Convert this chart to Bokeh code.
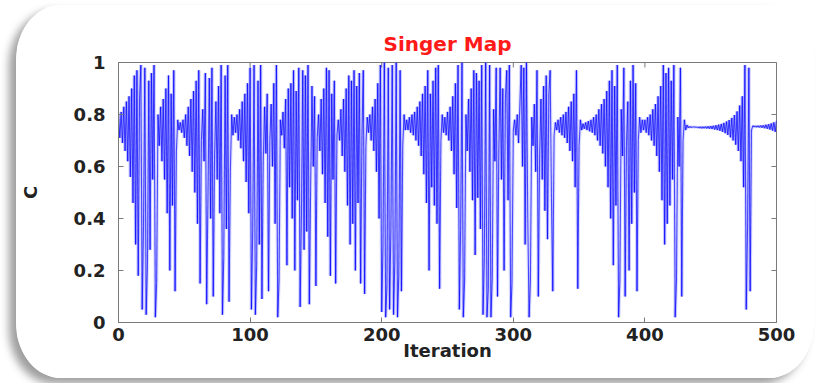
import math
from bokeh.plotting import figure
from bokeh.models import Range1d, FixedTicker, NumeralTickFormatter
from bokeh.embed import file_html
from bokeh.resources import INLINE

# ---- data (C value per iteration) ----
c_000_099 = [
    0.80, 0.71, 0.81, 0.69, 0.83, 0.66, 0.85, 0.62, 0.87, 0.56,
    0.90, 0.46, 0.95, 0.30, 0.97, 0.18, 0.86, 0.99, 0.05, 0.37,
    0.98, 0.03, 0.22, 0.93, 0.28, 0.96, 0.55, 0.99, 0.02, 0.15,
    0.80, 0.68, 0.83, 0.62, 0.86, 0.55, 0.90, 0.42, 0.95, 0.20,
    0.88, 0.45, 0.97, 0.12, 0.66, 0.78, 0.74, 0.77, 0.73, 0.78,
    0.71, 0.80, 0.68, 0.83, 0.64, 0.86, 0.58, 0.89, 0.50, 0.93,
    0.38, 0.97, 0.15, 0.70, 0.82, 0.62, 0.96, 0.07, 0.48, 0.94,
    0.40, 0.98, 0.10, 0.64, 0.85, 0.55, 0.91, 0.42, 0.99, 0.03,
    0.25, 0.95, 0.36, 0.99, 0.08, 0.58, 0.80, 0.72, 0.79, 0.73,
    0.80, 0.70, 0.82, 0.67, 0.85, 0.62, 0.88, 0.54, 0.92, 0.42,
]
c_100_199 = [
    0.98, 0.05, 0.36, 0.99, 0.03, 0.22, 0.93, 0.30, 0.99, 0.09,
    0.62, 0.83, 0.65, 0.88, 0.12, 0.70, 0.84, 0.60, 0.92, 0.38,
    0.99, 0.02, 0.16, 0.78, 0.72, 0.81, 0.67, 0.86, 0.22, 0.90,
    0.52, 0.92, 0.40, 0.97, 0.20, 0.89, 0.47, 0.98, 0.06, 0.41,
    0.97, 0.28, 0.95, 0.35, 0.99, 0.07, 0.52, 0.91, 0.60, 0.87,
    0.14, 0.71, 0.80, 0.66, 0.86, 0.57, 0.90, 0.46, 0.98, 0.33,
    0.97, 0.18, 0.88, 0.55, 0.93, 0.15, 0.72, 0.78, 0.70, 0.82,
    0.64, 0.86, 0.58, 0.90, 0.45, 0.95, 0.30, 0.93, 0.38, 0.97,
    0.20, 0.91, 0.46, 0.96, 0.15, 0.72, 0.97, 0.11, 0.68, 0.79,
    0.73, 0.80, 0.70, 0.83, 0.66, 0.86, 0.58, 0.92, 0.40, 0.99,
]
c_200_299 = [
    0.04, 0.30, 1.00, 0.02, 0.14, 0.98, 0.05, 0.36, 0.99, 0.03,
    0.24, 1.00, 0.02, 0.18, 0.97, 0.12, 0.68, 0.80, 0.74, 0.78,
    0.74, 0.79, 0.73, 0.80, 0.72, 0.81, 0.70, 0.83, 0.68, 0.85,
    0.64, 0.88, 0.57, 0.91, 0.46, 0.97, 0.20, 0.88, 0.52, 0.93,
    0.45, 0.98, 0.38, 0.99, 0.13, 0.70, 0.80, 0.73, 0.79, 0.72,
    0.81, 0.70, 0.83, 0.66, 0.87, 0.57, 0.92, 0.44, 0.99, 0.05,
    0.37, 1.00, 0.02, 0.16, 0.80, 0.66, 0.86, 0.58, 0.90, 0.47,
    0.97, 0.26, 0.96, 0.48, 0.93, 0.36, 0.99, 0.03, 0.25, 1.00,
    0.02, 0.13, 0.99, 0.02, 0.17, 0.82, 0.62, 0.98, 0.10, 0.66,
    0.98, 0.55, 0.90, 0.20, 0.86, 0.97, 0.47, 0.99, 0.02, 0.15,
]
c_300_399 = [
    0.74, 0.78, 0.72, 0.80, 0.69, 0.84, 0.99, 0.60, 0.98, 0.30,
    1.00, 0.40, 0.02, 0.16, 0.79, 0.68, 0.84, 0.58, 0.97, 0.10,
    0.64, 0.86, 0.55, 0.91, 0.43, 0.95, 0.32, 0.88, 0.97, 0.48,
    0.12, 0.72, 0.77, 0.74, 0.78, 0.73, 0.79, 0.72, 0.80, 0.71,
    0.81, 0.69, 0.83, 0.66, 0.85, 0.62, 0.88, 0.52, 0.97, 0.13,
    0.68, 0.78, 0.74, 0.765, 0.745, 0.77, 0.74, 0.775, 0.735, 0.78,
    0.73, 0.79, 0.72, 0.80, 0.70, 0.82, 0.68, 0.84, 0.65, 0.86,
    0.60, 0.89, 0.52, 0.93, 0.40, 0.97, 0.22, 0.91, 0.45, 0.99,
    0.02, 0.16, 0.82, 0.64, 0.98, 0.10, 0.68, 0.85, 0.20, 0.93,
    0.38, 0.99, 0.50, 0.92, 0.12, 0.70, 0.79, 0.73, 0.78, 0.74,
]
c_400_500 = [
    0.78, 0.73, 0.79, 0.72, 0.80, 0.70, 0.82, 0.68, 0.84, 0.64,
    0.87, 0.58, 0.91, 0.47, 0.99, 0.30, 0.96, 0.38, 0.98, 0.45,
    0.93, 0.55, 0.99, 0.02, 0.16, 0.79, 0.60, 0.98, 0.10, 0.70,
    0.78, 0.74, 0.76, 0.748, 0.754, 0.750, 0.753, 0.751, 0.753, 0.750,
    0.752, 0.748, 0.753, 0.747, 0.753, 0.747, 0.754, 0.746, 0.755, 0.745,
    0.756, 0.744, 0.757, 0.742, 0.759, 0.740, 0.761, 0.737, 0.764, 0.733,
    0.768, 0.728, 0.773, 0.721, 0.779, 0.712, 0.787, 0.700, 0.798, 0.684,
    0.812, 0.66, 0.835, 0.62, 0.87, 0.52, 0.99, 0.05, 0.36, 0.98,
    0.12, 0.74, 0.757, 0.752, 0.756, 0.751, 0.757, 0.750, 0.758, 0.749,
    0.759, 0.747, 0.761, 0.745, 0.763, 0.742, 0.766, 0.738, 0.770, 0.733,
    0.776,
]
x_ticks = [0, 100, 200, 300, 400, 500]
y_ticks = [0, 0.2, 0.4, 0.6, 0.8, 1]
title_text = "Singer Map"
x_label = "Iteration"
y_label = "C"

c_values = c_000_099 + c_100_199 + c_200_299 + c_300_399 + c_400_500
iterations = list(range(len(c_values)))

FONT = "DejaVu Sans"
AX = "#7a7a7a"
TXT = "#222222"

p = figure(width=798, height=373, output_backend="svg", toolbar_location=None,
           x_range=Range1d(0, 500), y_range=Range1d(0, 1),
           min_border_left=97, min_border_right=38,
           min_border_top=57, min_border_bottom=56,
           title=title_text)
p.border_fill_color = "white"
p.background_fill_color = "white"
p.outline_line_color = AX
p.grid.visible = False

# rounded "card" look with a soft shadow, as in the reference
p.styles = {
    "margin-left": "16px",
    "margin-top": "5px",
    "border-radius": "45px / 55px",
    "overflow": "hidden",
    "box-shadow": "-7px 6px 9px rgba(0, 0, 0, 0.38)",
}

# title
p.title.text_font = FONT
p.title.text_font_style = "bold"
p.title.text_font_size = "20px"
p.title.text_color = "#ff1a1a"
p.title.align = "center"
p.title.standoff = 14

def style_axis(ax):
    ax.axis_line_color = AX
    ax.major_tick_line_color = AX
    ax.major_tick_in = 5
    ax.major_tick_out = 0
    ax.minor_tick_line_color = None
    ax.major_label_text_font = FONT
    ax.major_label_text_font_style = "bold"
    ax.major_label_text_color = TXT
    ax.major_label_text_font_size = "18px"
    ax.axis_label_text_font = FONT
    ax.axis_label_text_font_style = "bold"
    ax.axis_label_text_font_size = "18px"
    ax.axis_label_text_color = TXT

xa = p.xaxis[0]
xa.ticker = FixedTicker(ticks=x_ticks)
style_axis(xa)
xa.major_label_standoff = 5
xa.axis_label = x_label
xa.axis_label_standoff = -4

ya = p.yaxis[0]
ya.ticker = FixedTicker(ticks=y_ticks)
ya.formatter = NumeralTickFormatter(format="0.[0]")
style_axis(ya)
ya.major_label_standoff = 13
ya.axis_label = y_label
ya.axis_label_standoff = 30

# inward tick marks on the top and right edges of the box
p.ray(x=x_ticks, y=[1] * len(x_ticks), length=5, length_units="screen",
      angle=-math.pi / 2, line_color=AX, line_width=1)
p.ray(x=[500] * len(y_ticks), y=y_ticks, length=5, length_units="screen",
      angle=math.pi, line_color=AX, line_width=1)

# the series, drawn segment by segment so dense parts darken:
# a soft wide halo (the reference is blurred) and a sharper core
x0, x1 = iterations[:-1], iterations[1:]
y0, y1 = c_values[:-1], c_values[1:]
p.segment(x0=x0, y0=y0, x1=x1, y1=y1,
          line_color="#3a3aff", line_width=3.4, line_alpha=0.17)
p.segment(x0=x0, y0=y0, x1=x1, y1=y1,
          line_color="#0000ff", line_width=1.1, line_alpha=0.68)

open("out.html", "w").write(file_html(p, INLINE))
